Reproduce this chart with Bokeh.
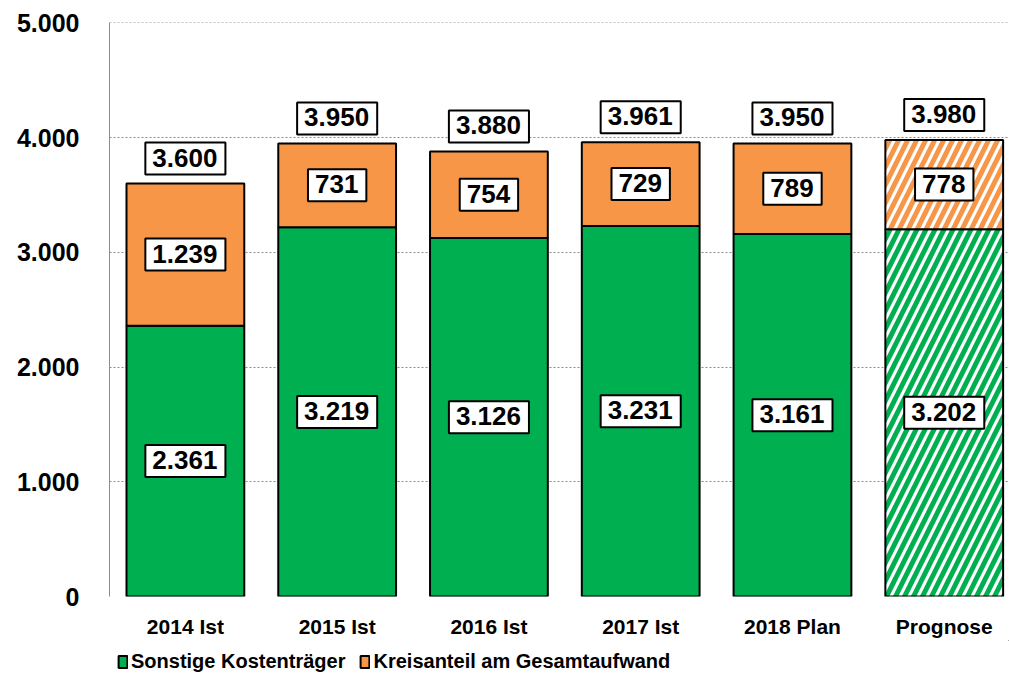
from bokeh.plotting import figure
from bokeh.models import ColumnDataSource, Range1d, FixedTicker, Legend, LegendItem
from bokeh.layouts import column
from bokeh.core.properties import value
from bokeh.embed import file_html
from bokeh.resources import INLINE

categories = ["2014 Ist", "2015 Ist", "2016 Ist", "2017 Ist", "2018 Plan", "Prognose"]
sonstige = [2361, 3219, 3126, 3231, 3161, 3202]
kreisanteil = [1239, 731, 754, 729, 789, 778]
totals = [3600, 3950, 3880, 3961, 3950, 3980]
y_ticks = [0, 1000, 2000, 3000, 4000, 5000]
y_tick_labels = ["0", "1.000", "2.000", "3.000", "4.000", "5.000"]
series_names = ["Sonstige Kostenträger", "Kreisanteil am Gesamtaufwand"]

GREEN = "#00B050"
ORANGE = "#F79646"
FONT = "Liberation Sans"


def fmt(v):
    return f"{v:,}".replace(",", ".")


xs = list(range(len(categories)))
n_solid = 5

p = figure(width=1009, height=640, output_backend="svg", toolbar_location=None,
           x_range=Range1d(-0.5, 5.43), y_range=Range1d(0, 5004),
           min_border_left=109, min_border_top=22, min_border_right=0,
           min_border_bottom=43)
p.outline_line_color = None
p.background_fill_color = "white"

solid = ColumnDataSource(dict(x=xs[:n_solid], g=sonstige[:n_solid],
                              t=totals[:n_solid]))
hatched = ColumnDataSource(dict(x=xs[n_solid:], g=sonstige[n_solid:],
                                t=totals[n_solid:]))

bw = 0.776
p.vbar(x="x", bottom=0, top="g", width=bw, source=solid,
       fill_color=GREEN, line_color="black", line_width=2)
p.vbar(x="x", bottom="g", top="t", width=bw, source=solid,
       fill_color=ORANGE, line_color="black", line_width=2)
p.vbar(x="x", bottom=0, top="g", width=bw, source=hatched,
       fill_color="white", line_color="black", line_width=2,
       hatch_pattern="/", hatch_color=GREEN, hatch_scale=18, hatch_weight=5)
p.vbar(x="x", bottom="g", top="t", width=bw, source=hatched,
       fill_color="white", line_color="black", line_width=2,
       hatch_pattern="/", hatch_color=ORANGE, hatch_scale=18, hatch_weight=5)

# value labels
lx, ly, lt, loff = [], [], [], []
for i in xs:
    lx.append(i); ly.append(sonstige[i] / 2); lt.append(fmt(sonstige[i])); loff.append(0)
    lx.append(i); ly.append(sonstige[i] + kreisanteil[i] / 2); lt.append(fmt(kreisanteil[i])); loff.append(0)
    lx.append(i); ly.append(totals[i]); lt.append(fmt(totals[i])); loff.append(-25)
lab = ColumnDataSource(dict(x=lx, y=ly, t=lt, off=loff))
p.text(x="x", y="y", text="t", y_offset="off", source=lab,
       text_font=value(FONT), text_font_style="bold", text_font_size="26px",
       text_align="center", text_baseline="middle", text_color="black",
       background_fill_color="white", border_line_color="black",
       border_line_width=2, padding=[7, 8, 6, 8])

# grid
p.xgrid.grid_line_color = None
p.ygrid.ticker = FixedTicker(ticks=y_ticks)
p.ygrid.grid_line_color = "#8c8c8c"
p.ygrid.grid_line_dash = "2 2"
p.ygrid.grid_line_width = 1

# y axis
p.yaxis.ticker = FixedTicker(ticks=y_ticks)
p.yaxis.major_label_overrides = {t: l for t, l in zip(y_ticks, y_tick_labels)}
p.yaxis.axis_line_color = "#8c8c8c"
p.yaxis.major_tick_line_color = None
p.yaxis.minor_tick_line_color = None
p.yaxis.major_label_text_font = FONT
p.yaxis.major_label_text_font_style = "bold"
p.yaxis.major_label_text_font_size = "25px"
p.yaxis.major_label_text_color = "black"
p.yaxis.major_label_standoff = 24

# x axis
p.xaxis.ticker = FixedTicker(ticks=xs)
p.xaxis.major_label_overrides = {i: c for i, c in zip(xs, categories)}
p.xaxis.axis_line_color = None
p.xaxis.major_tick_line_color = None
p.xaxis.minor_tick_line_color = None
p.xaxis.major_label_text_font = FONT
p.xaxis.major_label_text_font_style = "bold"
p.xaxis.major_label_text_font_size = "21px"
p.xaxis.major_label_text_color = "black"
p.xaxis.major_label_standoff = 12

# legend strip below the chart (its frame is aligned with the chart frame)
q = figure(width=1009, height=33, output_backend="svg", toolbar_location=None,
           x_range=Range1d(0, 1), y_range=Range1d(0, 1),
           min_border_left=0, min_border_right=0, min_border_top=0,
           min_border_bottom=0)
q.outline_line_color = None
q.axis.visible = False
q.grid.visible = False
dummy = ColumnDataSource(dict(x=[5], top=[6], bottom=[5]))
lg = q.vbar(x="x", top="top", bottom="bottom", width=1, source=dummy,
            fill_color=GREEN, line_color="black", line_width=2)
lo = q.vbar(x="x", top="top", bottom="bottom", width=1, source=dummy,
            fill_color=ORANGE, line_color="black", line_width=2)
legend = Legend(items=[LegendItem(label=series_names[0], renderers=[lg]),
                       LegendItem(label=series_names[1], renderers=[lo])],
                orientation="horizontal", location=(8, 0),
                label_text_font=FONT, label_text_font_style="bold",
                label_text_font_size="20px", label_text_color="black",
                glyph_width=11, glyph_height=15, label_standoff=3,
                spacing=14, padding=0, margin=0, border_line_color=None,
                background_fill_alpha=0)
q.add_layout(legend, "center")

layout = column(p, q, spacing=0)
open("out.html", "w").write(file_html(layout, INLINE))
